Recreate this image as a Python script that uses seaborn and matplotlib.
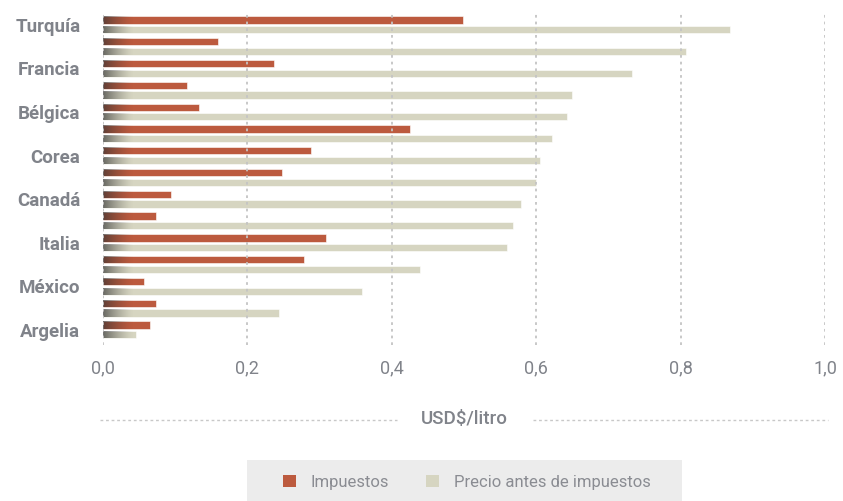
import numpy as np
import pandas as pd
import matplotlib
matplotlib.use("Agg")
import matplotlib.pyplot as plt
import seaborn as sns
from matplotlib.lines import Line2D
from matplotlib.patches import Rectangle, Patch

# Fuel price per litre, split into taxes and pre-tax price (USD)
countries = ["Turquía", "Alemania", "Francia", "Reino Unido", "Bélgica", "Japón",
             "Corea", "España", "Canadá", "Chile", "Italia", "Brasil",
             "México", "Estados Unidos", "Argelia"]
shown_labels = ["Turquía", "", "Francia", "", "Bélgica", "", "Corea", "",
                "Canadá", "", "Italia", "", "México", "", "Argelia"]
taxes = [0.499, 0.160, 0.237, 0.117, 0.134, 0.425, 0.289, 0.248,
         0.095, 0.074, 0.310, 0.279, 0.057, 0.074, 0.066]
pretax = [0.868, 0.807, 0.733, 0.650, 0.643, 0.622, 0.606, 0.600,
          0.579, 0.568, 0.560, 0.439, 0.359, 0.244, 0.047]
series = ["Impuestos", "Precio antes de impuestos"]
xticks = [0.0, 0.2, 0.4, 0.6, 0.8, 1.0]
xtick_labels = ["0,0", "0,2", "0,4", "0,6", "0,8", "1,0"]

RED = "#bc5a3e"
BEIGE = "#d6d5c1"
GRAY = "#80838a"

df = pd.DataFrame({
    "país": countries * 2,
    "valor": taxes + pretax,
    "serie": [series[0]] * len(countries) + [series[1]] * len(countries),
})

sns.set_theme(style="white")
plt.rcParams["font.family"] = ["Roboto", "DejaVu Sans"]

fig = plt.figure(figsize=(8.43, 5.01), dpi=100)
ax = fig.add_axes([0.1216, 0.3114, 0.8571, 0.6621])

sns.barplot(data=df, y="país", x="valor", hue="serie", orient="h",
            palette=[RED, BEIGE], width=0.89, gap=0.25, ax=ax,
            legend=False, edgecolor="white", linewidth=0.4, saturation=1)

# dark shading fading in from the left edge of each bar
grad = np.zeros((1, 64, 4))
grad[..., :3] = 0.2
grad[0, :, 3] = np.linspace(0.75, 0.0, 64) ** 1.4
for p in list(ax.patches):
    y0 = p.get_y()
    h = p.get_height()
    im = ax.imshow(grad, extent=[0, 0.042, y0 + h, y0], aspect="auto",
                   zorder=2.5, interpolation="bilinear")
    im.set_clip_path(p)

ax.set_xlim(0, 1.0)
ax.set_ylim(len(countries) - 1 + 0.69, -0.53)
ax.set_xticks(xticks)
ax.set_xticklabels(xtick_labels)
ax.set_yticks(range(len(countries)))
ax.set_yticklabels(shown_labels)
ax.set_xlabel("")
ax.set_ylabel("")
for s in ax.spines.values():
    s.set_visible(False)

for xv in xticks:
    ax.axvline(xv, color="#c4c4c4", lw=1.3, ls=(0, (1.5, 2.2)), zorder=4)

ax.tick_params(axis="x", length=0, pad=10, labelsize=13, labelcolor=GRAY)
ax.tick_params(axis="y", length=0, pad=16, labelsize=13.5, labelcolor=GRAY)
for t in ax.get_yticklabels():
    t.set_fontweight("bold")

# axis title with dotted rules on both sides
fig.text(464.5 / 843, 1 - 419 / 501, "USD$/litro", ha="center", va="center",
         fontsize=13.5, color=GRAY, fontweight="medium")
yl = 1 - 420 / 501
fig.add_artist(Line2D([100 / 843, 397 / 843], [yl, yl], color="#c8c8c8",
                      lw=1, ls=(0, (2, 2))))
fig.add_artist(Line2D([533 / 843, 828 / 843], [yl, yl], color="#c8c8c8",
                      lw=1, ls=(0, (2, 2))))

# legend panel
fig.add_artist(Rectangle((247 / 843, 0), (682 - 247) / 843, 41 / 501,
                         transform=fig.transFigure, facecolor="#ececec",
                         edgecolor="none", zorder=0))
handles = [Patch(facecolor=RED, edgecolor="none"),
           Patch(facecolor=BEIGE, edgecolor="none")]
leg = fig.legend(handles, series, loc="center", bbox_to_anchor=(467 / 843, 1 - 482 / 501),
                 ncol=2, frameon=False, handlelength=0.75, handleheight=0.75,
                 columnspacing=2.2, handletextpad=0.9,
                 prop={"weight": "normal", "size": 12})
for t in leg.get_texts():
    t.set_color("#8a8c92")

fig.savefig("out.png", dpi=100)
